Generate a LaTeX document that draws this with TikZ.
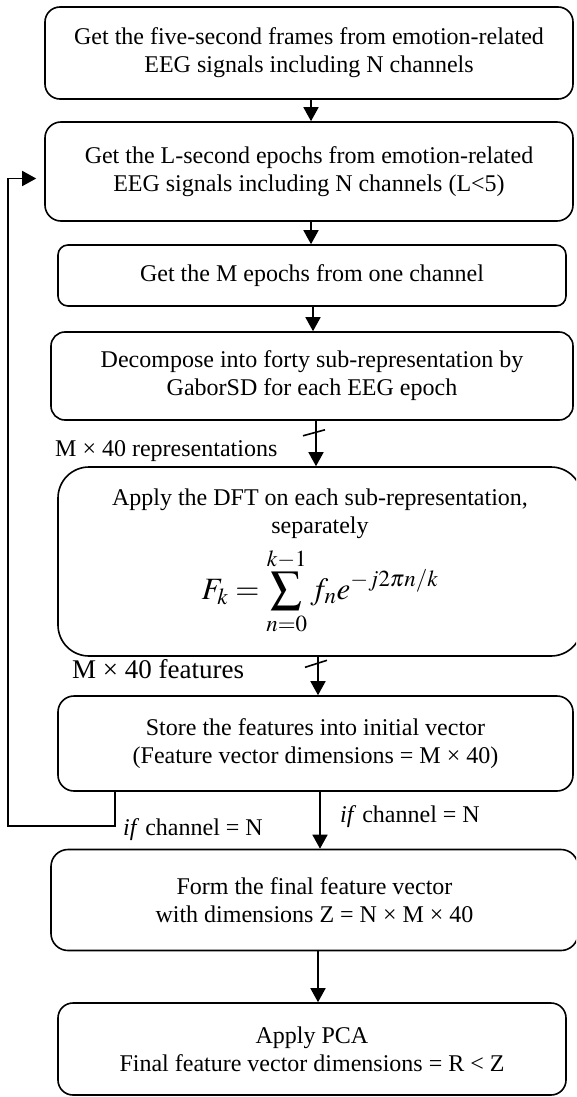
\documentclass[tikz,border=0pt]{standalone}
\usepackage{mathptmx}
\usepackage{fontspec}
\setmainfont{Liberation Serif}
\usetikzlibrary{arrows.meta}
\tikzset{
  fl/.style={draw, line width=1.6pt, align=center, inner sep=0pt, font=\fontsize{24}{28}\selectfont},
  ar/.style={line width=1.6pt, -{Triangle[length=14pt,width=15pt]}},
  sl/.style={line width=1.6pt},
  lb/.style={inner sep=0pt, font=\fontsize{24}{28}\selectfont},
}
\begin{document}
\begin{tikzpicture}[x=1pt,y=-1pt]
\useasboundingbox (0,0) rectangle (576,1097);
\clip (0,0) rectangle (576,1097);

\node[fl, rounded corners=15pt, minimum width=528pt, minimum height=92pt] (b1) at (309,53)
  {Get the five-second frames from emotion-related\\EEG signals including N channels};
\node[fl, rounded corners=16pt, minimum width=528pt, minimum height=99pt] (b2) at (309,171.5)
  {Get the L-second epochs from emotion-related\\EEG signals including N channels (L<5)};
\node[fl, rounded corners=10pt, minimum width=508pt, minimum height=61pt] (b3) at (312,275.5)
  {Get the M epochs from one channel};
\node[fl, rounded corners=14pt, minimum width=522pt, minimum height=88pt] (b4) at (312,376)
  {Decompose into forty sub-representation by\\GaborSD for each EEG epoch};
\node[fl, rounded corners=31pt, minimum width=524pt, minimum height=189pt] (b5) at (320,561.5)
  {Apply the DFT on each sub-representation,\\separately\\[8pt]{\fontsize{31}{34}\selectfont$\displaystyle F_k=\sum_{n=0}^{k-1} f_n e^{-j2\pi n/k}$}};
\node[fl, rounded corners=16pt, minimum width=515pt, minimum height=95pt] (b6) at (315.5,743.5)
  {Store the features into initial vector\\(Feature vector dimensions = M × 40)};
\node[fl, rounded corners=17pt, minimum width=527pt, minimum height=101pt] (b7) at (314.5,900)
  {Form the final feature vector\\with dimensions Z = N × M × 40};
\node[fl, rounded corners=15pt, minimum width=508pt, minimum height=92pt] (b8) at (312,1049)
  {Apply PCA\\Final feature vector dimensions = R < Z};

\draw[ar] ([xshift=2pt]b1.south) -- ([xshift=2pt]b1.south |- b2.north);
\draw[ar] ([xshift=2pt]b2.south) -- ([xshift=2pt]b2.south |- b3.north);
\draw[ar] ([xshift=1pt]b3.south) -- ([xshift=1pt]b3.south |- b4.north);
\draw[ar] ([xshift=4pt]b4.south) -- ([xshift=4pt]b4.south |- b5.north);
\draw[ar] ([xshift=-2pt]b5.south) -- ([xshift=-2pt]b5.south |- b6.north);
\draw[ar] ([xshift=4.5pt]b6.south) -- ([xshift=4.5pt]b6.south |- b7.north);
\draw[ar] ([xshift=3.5pt]b7.south) -- ([xshift=3.5pt]b7.south |- b8.north);

\draw[sl] ([xshift=2pt,yshift=-12pt]b4.south) ++(-11pt,-3pt) -- ++(22pt,6pt);
\draw[sl] ([xshift=-4pt,yshift=-7pt]b5.south) ++(-11pt,-3.5pt) -- ++(22pt,7pt);

\coordinate (lc) at (8,826);
\draw[ar, shorten >=8pt] ([xshift=58pt]b6.south west) |- (lc) |- ([yshift=-7pt]b2.west);

\node[lb, anchor=base west] (l1) at (55,456) {M × 40 representations};
\node[lb, anchor=base west, font=\fontsize{27}{30}\selectfont] (l2) at (72,678) {M × 40 features};
\node[lb, anchor=base west] (l3) at (340,822) {\textit{if} channel = N};
\node[lb, anchor=base west] (l4) at (123,835) {\textit{if} channel = N};
\end{tikzpicture}
\end{document}
